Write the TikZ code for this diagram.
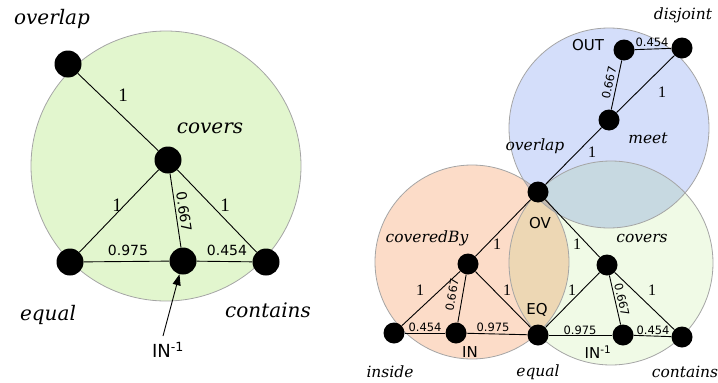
\documentclass[tikz,border=0pt]{standalone}
\usepackage{fontspec}
\setmainfont{Liberation Serif}
\newfontfamily\labfont{DejaVu Serif}
\newfontfamily\numfont{DejaVu Sans}
\usetikzlibrary{arrows.meta}
\definecolor{lgreen}{RGB}{226,246,206}
\definecolor{rgreen}{RGB}{240,250,230}
\definecolor{rblue}{RGB}{212,222,250}
\definecolor{rorange}{RGB}{252,220,200}
\definecolor{ringline}{RGB}{165,165,165}
\begin{document}
\begin{tikzpicture}[x=1pt,y=-1pt,
  ldot/.style={circle,fill=black,minimum size=27pt,inner sep=0pt},
  rdot/.style={circle,fill=black,minimum size=21pt,inner sep=0pt},
  link/.style={draw=black,line width=0.9pt},
  ring/.style={draw=ringline,line width=0.8pt},
  llab/.style={font=\labfont\itshape\fontsize{20}{20}\selectfont,inner sep=0pt},
  rlab/.style={font=\labfont\itshape\fontsize{15.5}{16}\selectfont,inner sep=0pt},
  lnum/.style={font=\numfont\fontsize{14}{14}\selectfont,inner sep=0pt},
  rnum/.style={font=\numfont\fontsize{11.5}{12}\selectfont,inner sep=0pt},
  lone/.style={font=\fontsize{19}{19}\selectfont,inner sep=0pt},
  rone/.style={font=\fontsize{16}{16}\selectfont,inner sep=0pt},
  lcap/.style={font=\numfont\fontsize{18}{18}\selectfont,inner sep=0pt},
  rcap/.style={font=\numfont\fontsize{15}{15}\selectfont,inner sep=0pt}]
\useasboundingbox (0,0) rectangle (718,383);
% ---------- left diagram ----------
\fill[lgreen] (166,166) circle[radius=135];
\draw[ring] (166,166) circle[radius=135];
\node[ldot] (Lov) at (68,64) {};
\node[ldot] (Lcv) at (168,160) {};
\node[ldot] (Leq) at (70,262) {};
\node[ldot] (Lin) at (183,261) {};
\node[ldot] (Lct) at (266,262) {};
\draw[link] (Lov) -- (Lcv);
\draw[link] (Lcv) -- (Leq);
\draw[link] (Lcv) -- (Lin);
\draw[link] (Lcv) -- (Lct);
\draw[link] (Leq) -- (Lin);
\draw[link] (Lin) -- (Lct);
\node[lone] (l1) at (123,95) {1};
\node[lone] (l2) at (117,205) {1};
\node[lone] (l3) at (225,205) {1};
\node[lnum,rotate=-81.6] (l4) at (184,212) {0.667};
\node[lnum] (l5) at (128,250) {0.975};
\node[lnum] (l6) at (227,250) {0.454};
\node[llab] (tLov) at (52,19) {overlap};
\node[llab] (tLcv) at (210,128) {covers};
\node[llab] (tLeq) at (48,315) {equal};
\node[llab] (tLct) at (268,310) {contains};
\node[lcap] (tLin) at (168,350) {IN\textsuperscript{-1}};
\coordinate (arrtail) at (163,336);
\draw[line width=0.9pt,-{Triangle[length=11pt,width=8pt]}] (arrtail) -- (Lin);
% ---------- right diagram ----------
\begin{scope}[blend group=multiply]
\fill[rgreen] (611,263) circle[radius=102];
\fill[rorange] (472,262) circle[radius=97];
\fill[rblue] (609,128) circle[radius=100];
\end{scope}
\draw[ring] (611,263) circle[radius=102];
\draw[ring] (472,262) circle[radius=97];
\draw[ring] (609,128) circle[radius=100];
\node[rdot] (Rdj) at (682,48) {};
\node[rdot] (Rout) at (624,50) {};
\node[rdot] (Rmt) at (609,120) {};
\node[rdot] (Rov) at (538,192) {};
\node[rdot] (Rcb) at (468,264) {};
\node[rdot] (Rcv) at (607,265) {};
\node[rdot] (Rins) at (394,333) {};
\node[rdot] (Rin) at (456,333) {};
\node[rdot] (Req) at (538,335) {};
\node[rdot] (Rin1) at (623,335) {};
\node[rdot] (Rct) at (682,337) {};
\draw[link] (Rov) -- (Rmt);
\draw[link] (Rmt) -- (Rdj);
\draw[link] (Rmt) -- (Rout);
\draw[link] (Rout) -- (Rdj);
\draw[link] (Rov) -- (Rcb);
\draw[link] (Rov) -- (Rcv);
\draw[link] (Rcb) -- (Rins);
\draw[link] (Rcb) -- (Rin);
\draw[link] (Rcb) -- (Req);
\draw[link] (Rins) -- (Rin);
\draw[link] (Rin) -- (Req);
\draw[link] (Rcv) -- (Req);
\draw[link] (Rcv) -- (Rin1);
\draw[link] (Rcv) -- (Rct);
\draw[link] (Req) -- (Rin1);
\draw[link] (Rin1) -- (Rct);
\node[rone] (r1) at (592,152) {1};
\node[rone] (r2) at (662,92) {1};
\node[rnum,rotate=78] (r3) at (609,83) {0.667};
\node[rnum] (r4) at (652,42) {0.454};
\node[rone] (r5) at (497,244) {1};
\node[rone] (r6) at (577,244) {1};
\node[rone] (r7) at (420,290) {1};
\node[rnum,rotate=80] (r8) at (452,295) {0.667};
\node[rone] (r9) at (507,290) {1};
\node[rnum] (r10) at (425,327) {0.454};
\node[rnum] (r11) at (493,327) {0.975};
\node[rone] (r12) at (572,290) {1};
\node[rnum,rotate=-77] (r13) at (622,300) {0.667};
\node[rone] (r14) at (652,290) {1};
\node[rnum] (r15) at (580,330) {0.975};
\node[rnum] (r16) at (653,330) {0.454};
\node[rlab] (tRdj) at (683,15) {disjoint};
\node[rcap] (tRout) at (588,45) {OUT};
\node[rlab] (tRmt) at (648,138) {meet};
\node[rlab] (tRov) at (535,146) {overlap};
\node[rcap] (tRovc) at (540,223) {OV};
\node[rlab] (tRcb) at (427,238) {coveredBy};
\node[rlab] (tRcv) at (642,238) {covers};
\node[rcap] (tReqc) at (537,310) {EQ};
\node[rcap] (tRin) at (470,352) {IN};
\node[rcap] (tRin1) at (598,352) {IN\textsuperscript{-1}};
\node[rlab] (tRins) at (390,372) {inside};
\node[rlab] (tReq) at (538,372) {equal};
\node[rlab] (tRct) at (685,372) {contains};
\end{tikzpicture}
\end{document}
